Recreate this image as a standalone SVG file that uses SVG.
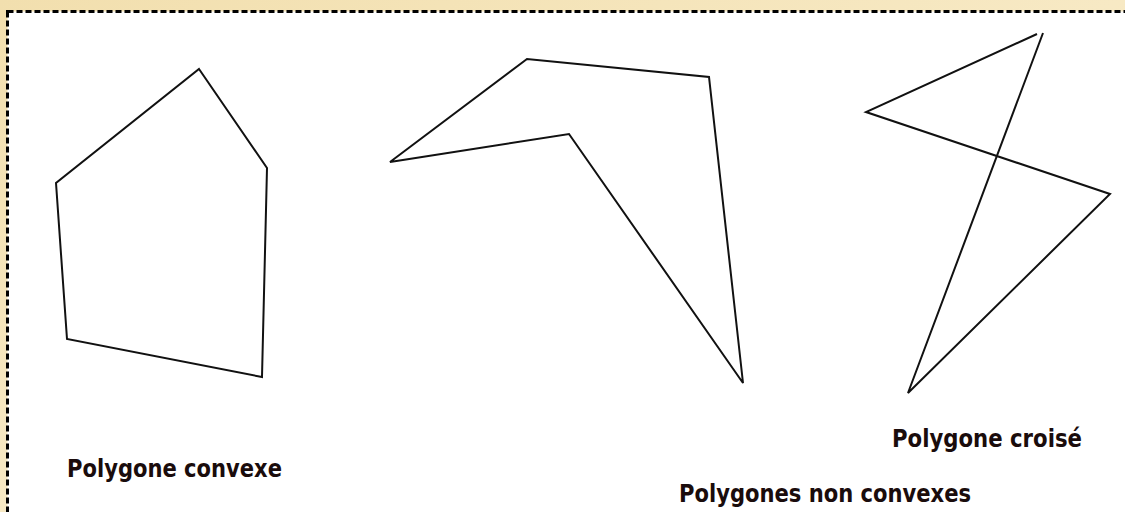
<svg xmlns="http://www.w3.org/2000/svg" width="1125" height="512" viewBox="0 0 1125 512">
<style>
.shape{fill:none;stroke:#111;stroke-width:2;stroke-linejoin:miter}
.lbl{font-family:"Comic Sans MS","DejaVu Sans",sans-serif;font-weight:bold;font-size:24px;fill:#1a0c0c}
.frame{fill:#fff;stroke:#000;stroke-width:3;stroke-dasharray:6 3}
</style>
<defs>
<linearGradient id="parch" x1="0" y1="0" x2="1" y2="1">
<stop offset="0" stop-color="#f2dfae"/>
<stop offset="0.5" stop-color="#f7e9c4"/>
<stop offset="1" stop-color="#efdaa6"/>
</linearGradient>
</defs>
<rect x="0" y="0" width="1125" height="512" fill="url(#parch)"/>
<rect class="frame" x="7.5" y="11.5" width="1130" height="520"/>
<g id="convexe">
<polygon class="shape" points="199,69 267,168 262,377 67,339 56,183"/>
</g>
<g id="non-convexe">
<polygon class="shape" points="390,162 527,59 709,77 743,383 569,134"/>
</g>
<g id="croise">
<polyline class="shape" points="1037,34 866,112 1110,194 908,393 1043,33"/>
</g>
<g id="labels">
<text class="lbl" x="67" y="477" textLength="215" lengthAdjust="spacingAndGlyphs">Polygone convexe</text>
<text class="lbl" x="892" y="447" textLength="190" lengthAdjust="spacingAndGlyphs">Polygone croisé</text>
<text class="lbl" x="679" y="502" textLength="292" lengthAdjust="spacingAndGlyphs">Polygones non convexes</text>
</g>
</svg>
